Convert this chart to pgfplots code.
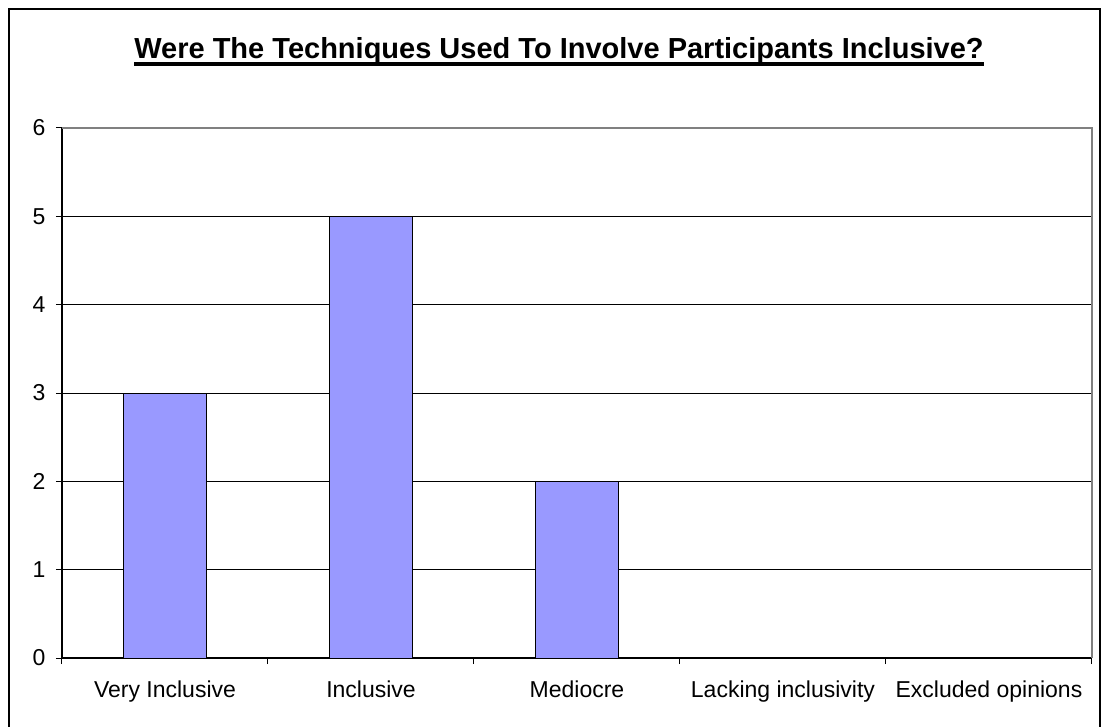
\documentclass[border=0pt]{standalone}
\usepackage{fontspec}
\setmainfont{Liberation Sans}
\usepackage{pgfplots}
\pgfplotsset{compat=1.18}
\definecolor{barblue}{RGB}{153,153,255}
\definecolor{framegray}{RGB}{128,128,128}
\begin{document}
\begin{tikzpicture}[x=1pt,y=1pt]
\useasboundingbox (0,0) rectangle (1102,726);
% outer chart frame (open at the bottom, as cropped)
\draw[line width=2pt] (9,-10) -- (9,717) -- (1100,717) -- (1100,-10);
\node[font=\fontsize{29}{33}\selectfont\bfseries, anchor=base, inner sep=0pt] (t) at (559,667)
  {Were The Techniques Used To Involve Participants Inclusive?};
\fill ([yshift=-3pt]t.base west) rectangle ([yshift=-7pt]t.base east);
\begin{axis}[
  at={(62pt,68pt)}, anchor=south west,
  width=1030pt, height=530pt, scale only axis,
  xmin=0.5, xmax=5.5, ymin=0, ymax=6,
  axis lines*=left,
  axis line style={line width=1.5pt},
  xtick={1,...,5},
  xticklabels={Very Inclusive, Inclusive, Mediocre, Lacking inclusivity, Excluded opinions},
  major x tick style={draw=none},
  minor xtick={0.5,1.5,...,5.5},
  ytick={0,...,6},
  tick align=outside,
  major tick length=6pt, minor tick length=6pt,
  tick style={black, line width=1pt},
  ymajorgrids,
  grid style={black, line width=1pt},
  ybar, bar width=83pt,
  tick label style={font=\fontsize{23}{27}\selectfont},
  /pgf/number format/assume math mode=true,
  xticklabel style={yshift=-13pt},
  yticklabel style={xshift=-7pt},
  clip=false,
]
\addplot[fill=barblue, draw=black, line width=1pt] coordinates {(1,3) (2,5) (3,2)};
\draw[framegray, line width=2pt] (rel axis cs:0,1) -- (rel axis cs:1,1) -- (rel axis cs:1,0);
\end{axis}
\end{tikzpicture}
\end{document}
